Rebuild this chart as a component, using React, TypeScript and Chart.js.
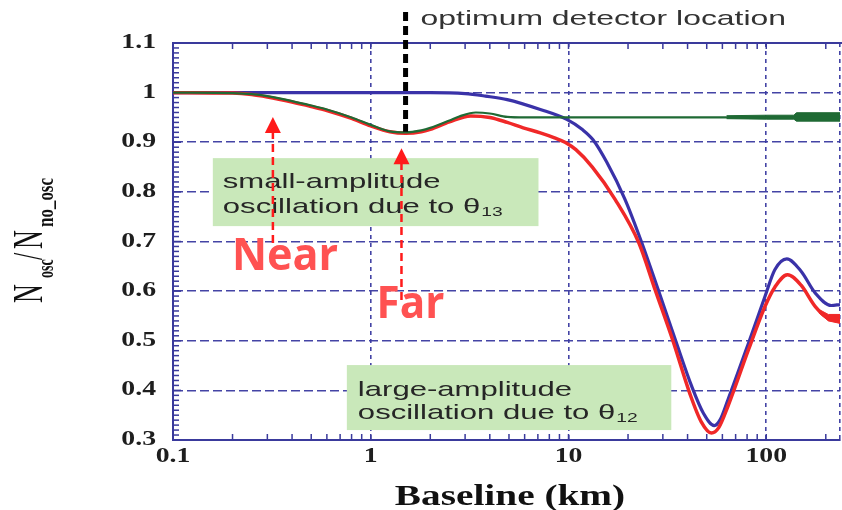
import React, { useEffect, useRef } from "react";
import { Chart, registerables } from "chart.js";

Chart.register(...registerables);

// ---- axis ticks ----
const xTickValues = [0.1, 1, 10, 100];
const xTickLabels = ["0.1", "1", "10", "100"];
const yTickValues = [0.3, 0.4, 0.5, 0.6, 0.7, 0.8, 0.9, 1.0, 1.1];
const yTickLabels = ["0.3", "0.4", "0.5", "0.6", "0.7", "0.8", "0.9", "1", "1.1"];

// ---- series (baseline in km, N_osc/N_no_osc) ----
const blueKm = [0.1, 1.0, 2.0, 3.0, 3.8, 4.9, 7.2, 9.8, 11.8, 13.3, 15.6, 19.3, 23.5, 28.4, 34.7, 42.0, 48.1, 54.6, 58.5, 64, 81.3, 98.5, 110.5, 127, 150, 177, 213, 236];
const blueRatio = [1.0, 1.0, 1.0, 0.998, 0.993, 0.986, 0.966, 0.946, 0.925, 0.905, 0.86, 0.785, 0.697, 0.603, 0.502, 0.408, 0.354, 0.329, 0.341, 0.381, 0.495, 0.589, 0.643, 0.665, 0.64, 0.596, 0.571, 0.573];

const redKm = [0.1, 0.2, 0.25, 0.3, 0.4, 0.5, 0.6, 0.8, 1.0, 1.25, 1.5, 1.8, 2.0, 2.5, 3.2, 4.0, 4.9, 5.9, 7.2, 8.5, 9.6, 10.9, 13.2, 17.2, 22.7, 27.4, 33.6, 41.2, 47.0, 52.8, 57.5, 64, 81.3, 98.5, 110.5, 128, 150, 177, 206, 236];
const redRatio = [1.0, 0.999, 0.996, 0.991, 0.981, 0.972, 0.964, 0.948, 0.933, 0.921, 0.918, 0.921, 0.926, 0.941, 0.953, 0.95, 0.94, 0.929, 0.919, 0.909, 0.9, 0.885, 0.85, 0.785, 0.697, 0.603, 0.502, 0.392, 0.336, 0.314, 0.325, 0.368, 0.482, 0.569, 0.608, 0.633, 0.612, 0.569, 0.546, 0.544];

const greenKm = [0.1, 0.2, 0.25, 0.3, 0.4, 0.5, 0.6, 0.8, 1.0, 1.25, 1.5, 1.8, 2.0, 2.5, 2.8, 3.4, 4.0, 4.9, 6.0, 63, 236];
const greenRatio = [1.0, 0.999, 0.997, 0.993, 0.983, 0.974, 0.966, 0.95, 0.935, 0.922, 0.92, 0.924, 0.929, 0.944, 0.952, 0.96, 0.958, 0.951, 0.95, 0.95, 0.95];

// noisy (thick) tail of the green curve
const greenBandKm = [63, 100, 138, 142, 236];
const greenBandHigh = [0.9535, 0.9545, 0.9545, 0.9595, 0.9595];
const greenBandLow = [0.9475, 0.9465, 0.9465, 0.9425, 0.9425];

// noisy (thick) tail of the red curve
const redBandKm = [185, 206, 236];
const redBandHigh = [0.563, 0.553, 0.553];
const redBandLow = [0.556, 0.54, 0.535];

const X_MIN = 0.1;
const X_MAX = 236;

const AXIS = "#3a3a9c";
const GRID = "rgba(58,58,160,0.95)";
const BLUE = "#3a32a8";
const RED = "#f02828";
const GREEN = "#1f6a34";

const pts = (xs: number[], ys: number[]) => xs.map((x, i) => ({ x, y: ys[i] }));

function txt(
  ctx: CanvasRenderingContext2D,
  s: string,
  x: number,
  y: number,
  font: string,
  color: string,
  sx: number,
  align: "left" | "center" | "right" = "left"
) {
  ctx.save();
  ctx.font = font;
  ctx.fillStyle = color;
  ctx.textBaseline = "alphabetic";
  ctx.textAlign = "left";
  const w = ctx.measureText(s).width * sx;
  const x0 = align === "center" ? x - w / 2 : align === "right" ? x - w : x;
  ctx.translate(x0, y);
  ctx.scale(sx, 1);
  ctx.fillText(s, 0, 0);
  ctx.restore();
  return w;
}

function arrow(ctx: CanvasRenderingContext2D, x: number, yTip: number, yBottom: number) {
  ctx.save();
  ctx.strokeStyle = "#ff1a1a";
  ctx.fillStyle = "#ff1a1a";
  ctx.lineWidth = 2.5;
  ctx.setLineDash([8, 5]);
  ctx.beginPath();
  ctx.moveTo(x, yBottom);
  ctx.lineTo(x, yTip + 14);
  ctx.stroke();
  ctx.setLineDash([]);
  ctx.beginPath();
  ctx.moveTo(x, yTip);
  ctx.lineTo(x - 8, yTip + 16);
  ctx.lineTo(x + 8, yTip + 16);
  ctx.closePath();
  ctx.fill();
  ctx.restore();
}

const SANS = "'Liberation Sans', Arial, sans-serif";
const SERIF = "'Liberation Serif', 'Times New Roman', serif";
const BOX_SX = 1.48;

const decorPlugin = {
  id: "decor",
  beforeDatasetsDraw(chart: any) {
    const { ctx, chartArea: a, scales } = chart;
    const xs = scales.x;
    const ys = scales.y;
    ctx.save();
    ctx.strokeStyle = AXIS;
    ctx.lineWidth = 2;
    ctx.beginPath();
    ctx.moveTo(a.left, a.top);
    ctx.lineTo(a.right + 2, a.top);
    ctx.stroke();
    ctx.lineWidth = 1.5;
    for (const t of xs.ticks) {
      const e = Math.pow(10, Math.floor(Math.log10(t.value) + 1e-9));
      const m = t.value / e;
      if (Math.abs(m - Math.round(m)) > 1e-6) continue;
      const px = xs.getPixelForValue(t.value);
      if (px >= a.right - 1) continue;
      ctx.beginPath();
      ctx.moveTo(px, a.bottom);
      ctx.lineTo(px, a.bottom - 6);
      ctx.moveTo(px, a.top);
      ctx.lineTo(px, a.top + 6);
      ctx.stroke();
    }
    for (let i = 30; i <= 110; i++) {
      const py = ys.getPixelForValue(i / 100);
      const len = i % 10 === 0 ? 8 : 6;
      ctx.beginPath();
      ctx.moveTo(a.left, py);
      ctx.lineTo(a.left + len, py);
      ctx.stroke();
    }
    ctx.restore();
  },
  afterDraw(chart: any) {
    const { ctx, chartArea: a, scales } = chart;
    const X = (v: number) => scales.x.getPixelForValue(v);
    const Y = (v: number) => scales.y.getPixelForValue(v);

    // optimum detector location marker
    ctx.save();
    ctx.strokeStyle = "#000";
    ctx.lineWidth = 5;
    ctx.setLineDash([9, 5]);
    ctx.beginPath();
    ctx.moveTo(X(1.5), a.top - 31);
    ctx.lineTo(X(1.5), Y(0.921));
    ctx.stroke();
    ctx.restore();
    txt(ctx, "optimum detector location", X(1.5) + 15, a.top - 18, `21px ${SANS}`, "#333", 1.52);

    // annotation boxes
    const box = (k1: number, k2: number, v1: number, v2: number) => {
      const l = X(k1), r = X(k2), t = Y(v1), b = Y(v2);
      ctx.save();
      ctx.fillStyle = "#c9e8ba";
      ctx.fillRect(l, t, r - l, b - t);
      ctx.restore();
      return { l, t };
    };
    const b1 = box(0.159, 7.05, 0.868, 0.731);
    txt(ctx, "small-amplitude", b1.l + 10, b1.t + 30, `21px ${SANS}`, "#262626", BOX_SX);
    let w = txt(ctx, "oscillation due to \u03b8", b1.l + 10, b1.t + 55, `21px ${SANS}`, "#262626", BOX_SX);
    txt(ctx, "13", b1.l + 11 + w, b1.t + 58, `13px ${SANS}`, "#262626", BOX_SX);

    const b2 = box(0.757, 33.1, 0.451, 0.32);
    txt(ctx, "large-amplitude", b2.l + 11, b2.t + 31, `21px ${SANS}`, "#262626", BOX_SX);
    w = txt(ctx, "oscillation due to \u03b8", b2.l + 11, b2.t + 54, `21px ${SANS}`, "#262626", BOX_SX);
    txt(ctx, "12", b2.l + 12 + w, b2.t + 57, `13px ${SANS}`, "#262626", BOX_SX);

    // Near / Far arrows
    arrow(ctx, X(0.32), Y(0.951), Y(0.697));
    arrow(ctx, X(1.43), Y(0.888), Y(0.582));
    txt(ctx, "Near", X(0.32) - 41, Y(0.697) + 27, `bold 44px 'Open Sans', sans-serif`, "#ff5252", 0.98);
    txt(ctx, "Far", X(1.43) - 25, Y(0.582) + 18, `bold 44px 'Open Sans', sans-serif`, "#ff5252", 0.96);

    // tick labels
    yTickValues.forEach((v, i) => {
      txt(ctx, yTickLabels[i], a.left - 17, Y(v) + 5, `bold 21px ${SERIF}`, "#1e1e1e", 1.32, "right");
    });
    xTickValues.forEach((v, i) => {
      txt(ctx, xTickLabels[i], X(v), a.bottom + 22, `bold 21px ${SERIF}`, "#1e1e1e", 1.32, "center");
    });

    // x title
    txt(ctx, "Baseline (km)", 510, 505, `bold 30px ${SERIF}`, "#111", 1.31, "center");

    // y title (rotated)
    ctx.save();
    ctx.translate(42, 303);
    ctx.scale(1.65, 1);
    ctx.rotate(-Math.PI / 2);
    ctx.fillStyle = "#111";
    ctx.textBaseline = "alphabetic";
    ctx.font = `26px ${SERIF}`;
    ctx.fillText("N", 0, 0);
    ctx.font = `bold 14px ${SERIF}`;
    ctx.fillText("osc", 25, 6.5);
    ctx.font = `26px ${SERIF}`;
    ctx.fillText("/", 43, 0);
    ctx.fillText("N", 54, 0);
    ctx.font = `bold 14px ${SERIF}`;
    const wn = ctx.measureText("no_osc").width;
    ctx.save();
    ctx.translate(76, 6.5);
    ctx.scale(49 / wn, 1);
    ctx.fillText("no_osc", 0, 0);
    ctx.restore();
    ctx.restore();
  },
};

export default function App() {
  const ref = useRef<HTMLCanvasElement | null>(null);

  useEffect(() => {
    if (!ref.current) return;
    const line = (data: any, color: string, width: number, extra: any = {}) => ({
      data,
      borderColor: color,
      backgroundColor: color,
      borderWidth: width,
      pointRadius: 0,
      cubicInterpolationMode: "monotone",
      fill: false,
      ...extra,
    });
    const chart = new Chart(ref.current, {
      type: "line",
      data: {
        datasets: [
          line(pts(greenKm, greenRatio), GREEN, 2.2),
          line(pts(greenBandKm, greenBandHigh), GREEN, 1, { cubicInterpolationMode: "default", tension: 0, fill: "+1" }),
          line(pts(greenBandKm, greenBandLow), GREEN, 1, { cubicInterpolationMode: "default", tension: 0 }),
          line(pts(redKm, redRatio), RED, 3.5),
          line(pts(redBandKm, redBandHigh), RED, 1, { cubicInterpolationMode: "default", tension: 0, fill: "+1" }),
          line(pts(redBandKm, redBandLow), RED, 1, { cubicInterpolationMode: "default", tension: 0 }),
          line(pts(blueKm, blueRatio), BLUE, 3.2),
        ] as any,
      },
      options: {
        responsive: false,
        animation: false,
        events: [],
        layout: { padding: { top: 43, right: 2, left: 0, bottom: 0 } },
        plugins: {
          legend: { display: false },
          tooltip: { enabled: false },
          title: { display: false },
        },
        scales: {
          x: {
            type: "logarithmic",
            min: X_MIN,
            max: X_MAX,
            ticks: { display: false },
            grid: {
              drawTicks: false,
              lineWidth: 1.6,
              color: (c: any) =>
                c.tick && (c.tick.major || Math.abs(c.tick.value - X_MAX) < 1e-6) ? GRID : "rgba(0,0,0,0)",
            },
            border: { display: true, color: AXIS, width: 2, dash: [4, 4] },
            afterFit: (s: any) => {
              s.height = 70;
            },
          },
          y: {
            type: "linear",
            min: 0.3,
            max: 1.1,
            ticks: { display: false, stepSize: 0.1 },
            grid: { drawTicks: false, lineWidth: 1.6, color: GRID },
            border: { display: true, color: AXIS, width: 2, dash: [9, 4] },
            afterFit: (s: any) => {
              s.width = 173;
            },
          },
        },
      } as any,
      plugins: [decorPlugin as any],
    });
    return () => chart.destroy();
  }, []);

  return (
    <div style={{ position: "absolute", left: 0, top: 0, width: 842, height: 510, background: "#fff" }}>
      <canvas ref={ref} width={842} height={510} style={{ display: "block" }} />
    </div>
  );
}
